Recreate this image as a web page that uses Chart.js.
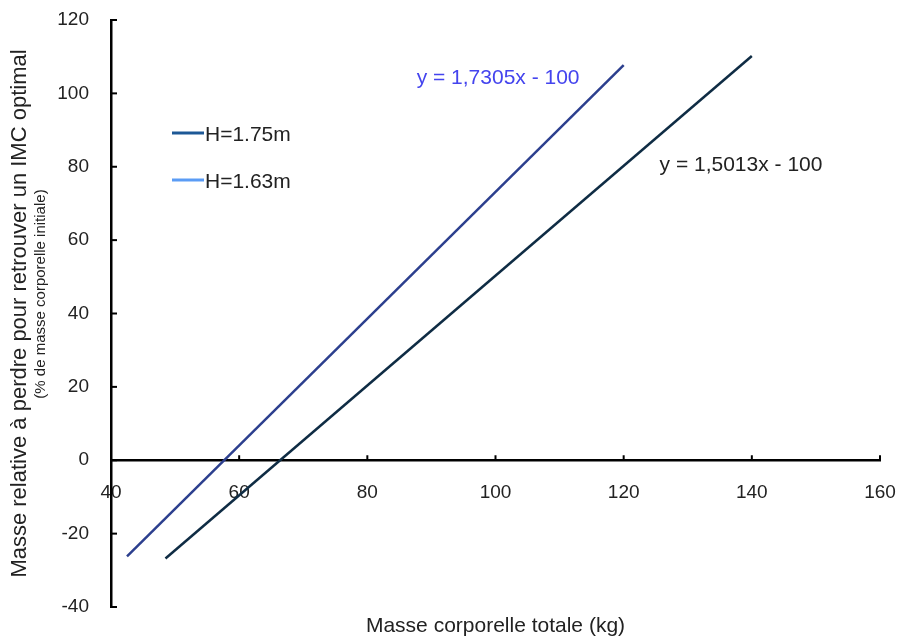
<!DOCTYPE html>
<html>
<head>
<meta charset="utf-8">
<script src="https://cdn.jsdelivr.net/npm/chart.js@4"></script>
<style>
    body { margin: 0; background: #fff; }
    #zone { width: 899px; height: 636px; }
</style>
</head>
<body>
<div id="zone"><canvas id="graphique"></canvas></div>
<script>
// donnees
const masse175 = [48.5, 140];
const perte175 = [-26.8, 110.2];
const masse163 = [42.5, 120];
const perte163 = [-26.2, 107.7];

const series = ["H=1.75m", "H=1.63m"];
const equations = ["y = 1,5013x - 100", "y = 1,7305x - 100"];
const ticksX = [40, 60, 80, 100, 120, 140, 160];
const ticksY = [-40, -20, 0, 20, 40, 60, 80, 100, 120];

const police = "'Liberation Sans', Arial, sans-serif";
const couleursLigne = ["#0f2c44", "#2c3f8e"];
const couleursLegende = ["#1d5896", "#5b9cf5"];

function points(xs, ys) {
    return xs.map((x, i) => ({ x: x, y: ys[i] }));
}

// textes dessines a la main (titres, legende, equations, petites graduations)
const decor = {
    id: "decor",
    afterDraw(chart) {
        const c = chart.ctx;
        const sx = chart.scales.x;
        const sy = chart.scales.y;
        const zone = chart.chartArea;
        const y0 = sy.getPixelForValue(0);

        // graduations tournees vers l'interieur
        c.save();
        c.strokeStyle = "#000";
        c.lineWidth = 2;
        ticksX.slice(1).forEach(v => {
            const px = sx.getPixelForValue(v);
            c.beginPath();
            c.moveTo(px, y0);
            c.lineTo(px, y0 - 5);
            c.stroke();
        });
        ticksY.forEach(v => {
            const py = sy.getPixelForValue(v);
            c.beginPath();
            c.moveTo(zone.left, py);
            c.lineTo(zone.left + 6, py);
            c.stroke();
        });

        c.fillStyle = "#222";
        c.textBaseline = "middle";

        // titre axe y
        c.save();
        c.translate(20, (zone.top + zone.bottom) / 2);
        c.rotate(-Math.PI / 2);
        c.textAlign = "center";
        c.font = "22px " + police;
        c.fillText("Masse relative à perdre pour retrouver un IMC optimal", 0, 0);
        c.restore();

        c.save();
        c.translate(41, 294);
        c.rotate(-Math.PI / 2);
        c.textAlign = "center";
        c.font = "15px " + police;
        c.fillText("(% de masse corporelle initiale)", 0, 0);
        c.restore();

        // titre axe x
        c.textAlign = "center";
        c.font = "21px " + police;
        c.fillText("Masse corporelle totale (kg)", (zone.left + zone.right) / 2, 626);

        // legende
        c.textAlign = "left";
        [133, 180].forEach((ly, i) => {
            c.strokeStyle = couleursLegende[i];
            c.lineWidth = 3;
            c.beginPath();
            c.moveTo(172, ly);
            c.lineTo(204, ly);
            c.stroke();
            c.fillStyle = "#222";
            c.fillText(series[i], 205, ly + 2);
        });

        // equations
        c.fillStyle = "#4444ee";
        c.fillText(equations[1], sx.getPixelForValue(87.7), sy.getPixelForValue(104));
        c.fillStyle = "#222";
        c.fillText(equations[0], sx.getPixelForValue(125.6), sy.getPixelForValue(80.4));

        c.restore();
    }
};

new Chart(document.getElementById("graphique"), {
    type: "scatter",
    data: {
        datasets: [
            {
                label: series[0],
                data: points(masse175, perte175),
                showLine: true,
                borderColor: couleursLigne[0],
                borderWidth: 2.5,
                pointRadius: 0
            },
            {
                label: series[1],
                data: points(masse163, perte163),
                showLine: true,
                borderColor: couleursLigne[1],
                borderWidth: 2.5,
                pointRadius: 0
            }
        ]
    },
    options: {
        responsive: true,
        maintainAspectRatio: false,
        animation: false,
        layout: { padding: { left: 53, right: 2, top: 20, bottom: 29 } },
        plugins: {
            legend: { display: false },
            tooltip: { enabled: false }
        },
        scales: {
            x: {
                type: "linear",
                min: 40,
                max: 160,
                position: { y: 0 },
                afterFit: s => { s.height = 0; s.paddingRight = 19; },
                border: { color: "#000", width: 2.5 },
                grid: { display: false, drawTicks: false },
                ticks: {
                    stepSize: 20,
                    padding: 21,
                    color: "#222",
                    font: { family: police, size: 19 }
                }
            },
            y: {
                min: -40,
                max: 120,
                afterFit: s => { s.width = 58; s.paddingTop = 10; s.paddingBottom = 10; },
                border: { color: "#000", width: 2.5 },
                grid: { display: false, drawTicks: false },
                ticks: {
                    stepSize: 20,
                    padding: 22,
                    color: "#222",
                    font: { family: police, size: 19 }
                }
            }
        }
    },
    plugins: [decor]
});
</script>
</body>
</html>
